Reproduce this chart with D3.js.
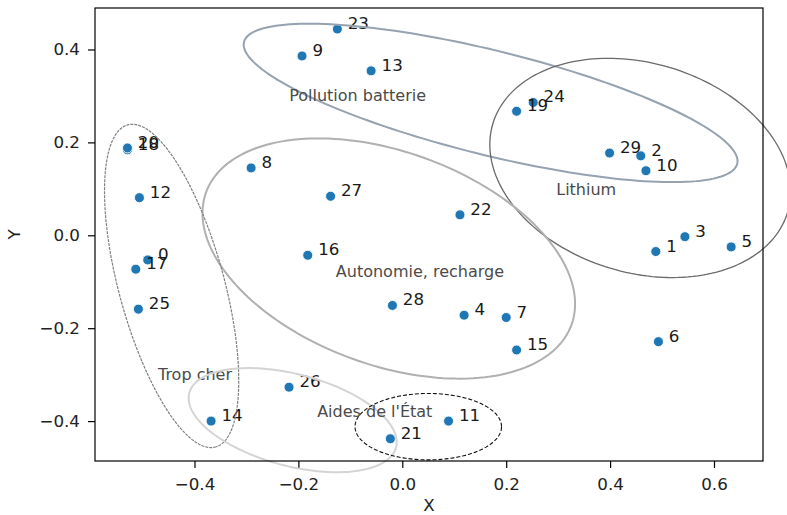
<!DOCTYPE html>
<html>
<head>
<meta charset="utf-8">
<script src="https://cdn.jsdelivr.net/npm/d3@7"></script>
<style>
  html, body { margin: 0; padding: 0; background: #fff; }
  text { font-family: "DejaVu Sans", sans-serif; }
</style>
</head>
<body>
<script>
// points, indexed by their number
const pointLabels = ["0","1","2","3","4","5","6","7","8","9","10","11","12","13","14",
  "15","16","17","18","19","20","21","22","23","24","25","26","27","28","29"];
const xs = [-0.490, 0.488, 0.459, 0.544, 0.119, 0.633, 0.493, 0.200, -0.291, -0.193,
  0.469, 0.089, -0.506, -0.060, -0.368, 0.220, -0.182, -0.513, -0.529, 0.220,
  -0.529, -0.023, 0.111, -0.125, 0.252, -0.508, -0.218, -0.138, -0.019, 0.399];
const ys = [-0.053, -0.035, 0.171, -0.003, -0.172, -0.025, -0.229, -0.177, 0.145, 0.386,
  0.139, -0.400, 0.081, 0.354, -0.400, -0.247, -0.043, -0.073, 0.184, 0.267,
  0.188, -0.438, 0.044, 0.444, 0.286, -0.159, -0.327, 0.084, -0.151, 0.177];

// theme ellipses (data units, angle in degrees like matplotlib Ellipse)
const themeNames = ["Pollution batterie", "Lithium", "Autonomie, recharge", "Trop cher", "", "Aides de l'État"];
const themeCx = [0.170, 0.458, -0.026, -0.444, -0.211, 0.050];
const themeCy = [0.285, 0.145, -0.050, -0.109, -0.398, -0.412];
const themeW = [0.985, 0.600, 0.760, 0.714, 0.415, 0.282];
const themeH = [0.223, 0.445, 0.452, 0.204, 0.196, 0.143];
const themeAngle = [-15.6, -23.0, -24.3, -76.6, -17.3, 0];
const themeLabelX = [-0.086, 0.354, 0.034, -0.399, null, -0.053];
const themeLabelY = [0.300, 0.098, -0.078, -0.299, null, -0.380];

const xTicks = [-0.4, -0.2, 0.0, 0.2, 0.4, 0.6];
const yTicks = [-0.4, -0.2, 0.0, 0.2, 0.4];

const width = 787, height = 515;
const margin = {top: 8, right: 24, bottom: 54, left: 95};

const svg = d3.select("body").append("svg")
    .attr("width", width)
    .attr("height", height);

const x = d3.scaleLinear().domain([-0.5915, 0.6943]).range([margin.left, width - margin.right]);
const y = d3.scaleLinear().domain([-0.4859, 0.4893]).range([height - margin.bottom, margin.top]);

const fmt = d3.format(".1f");

// axes
svg.append("g")
    .attr("transform", `translate(0,${height - margin.bottom})`)
    .call(d3.axisBottom(x).tickValues(xTicks).tickFormat(fmt).tickSize(7).tickPadding(10))
    .call(g => g.select(".domain").remove())
    .call(g => g.selectAll("line").attr("stroke", "#000").attr("stroke-width", 1.2))
    .call(g => g.selectAll("text").attr("font-size", 16.7).attr("fill", "#222"));

svg.append("g")
    .attr("transform", `translate(${margin.left},0)`)
    .call(d3.axisLeft(y).tickValues(yTicks).tickFormat(fmt).tickSize(7).tickPadding(8))
    .call(g => g.select(".domain").remove())
    .call(g => g.selectAll("line").attr("stroke", "#000").attr("stroke-width", 1.2))
    .call(g => g.selectAll("text").attr("font-size", 16.7).attr("fill", "#222"));

svg.append("text")
    .attr("x", (margin.left + width - margin.right) / 2)
    .attr("y", 511)
    .attr("text-anchor", "middle")
    .attr("font-size", 16.7)
    .attr("fill", "#222")
    .text("X");

svg.append("text")
    .attr("transform", `translate(20,${(margin.top + height - margin.bottom) / 2}) rotate(-90)`)
    .attr("text-anchor", "middle")
    .attr("font-size", 16.7)
    .attr("fill", "#222")
    .text("Y");

// points
const pts = xs.map((v, i) => ({x: v, y: ys[i], label: pointLabels[i]}));

svg.append("g").selectAll("circle")
    .data(pts)
    .enter().append("circle")
    .attr("cx", d => x(d.x))
    .attr("cy", d => y(d.y))
    .attr("r", 5)
    .attr("fill", "#1f77b4")
    .attr("stroke", "#fff")
    .attr("stroke-width", 0.9);

svg.append("g").selectAll("text")
    .data(pts)
    .enter().append("text")
    .attr("x", d => x(d.x + 0.02))
    .attr("y", d => y(d.y))
    .attr("font-size", 16.7)
    .attr("fill", "#1a1a1a")
    .text(d => d.label);

// ellipses drawn on top, not clipped to the axes
const ellipseStyle = [
  {stroke: "#95a2b0", width: 2, dash: null},
  {stroke: "#6a6a6a", width: 1.3, dash: null},
  {stroke: "#b0b0b0", width: 2, dash: null},
  {stroke: "#808080", width: 1.2, dash: "3,1"},
  {stroke: "#d4d4d4", width: 2, dash: null},
  {stroke: "#111", width: 1.1, dash: "4,2"}
];

const line = d3.line().curve(d3.curveLinearClosed);

themeCx.forEach((cx, i) => {
    const phi = themeAngle[i] * Math.PI / 180;
    const a = themeW[i] / 2, b = themeH[i] / 2;
    const ring = d3.range(0, 2 * Math.PI, Math.PI / 90).map(t => {
        const px = cx + a * Math.cos(t) * Math.cos(phi) - b * Math.sin(t) * Math.sin(phi);
        const py = themeCy[i] + a * Math.cos(t) * Math.sin(phi) + b * Math.sin(t) * Math.cos(phi);
        return [x(px), y(py)];
    });
    const s = ellipseStyle[i];
    svg.append("path")
        .attr("d", line(ring))
        .attr("fill", "none")
        .attr("stroke", s.stroke)
        .attr("stroke-width", s.width)
        .attr("stroke-dasharray", s.dash);

    if (themeNames[i]) {
        svg.append("text")
            .attr("x", x(themeLabelX[i]))
            .attr("y", y(themeLabelY[i]))
            .attr("text-anchor", "middle")
            .attr("dominant-baseline", "central")
            .attr("font-size", 16)
            .attr("fill", "#4a4a4a")
            .text(themeNames[i]);
    }
});

// frame
svg.append("rect")
    .attr("x", margin.left)
    .attr("y", margin.top)
    .attr("width", width - margin.left - margin.right)
    .attr("height", height - margin.top - margin.bottom)
    .attr("fill", "none")
    .attr("stroke", "#000")
    .attr("stroke-width", 1.2);
</script>
</body>
</html>
